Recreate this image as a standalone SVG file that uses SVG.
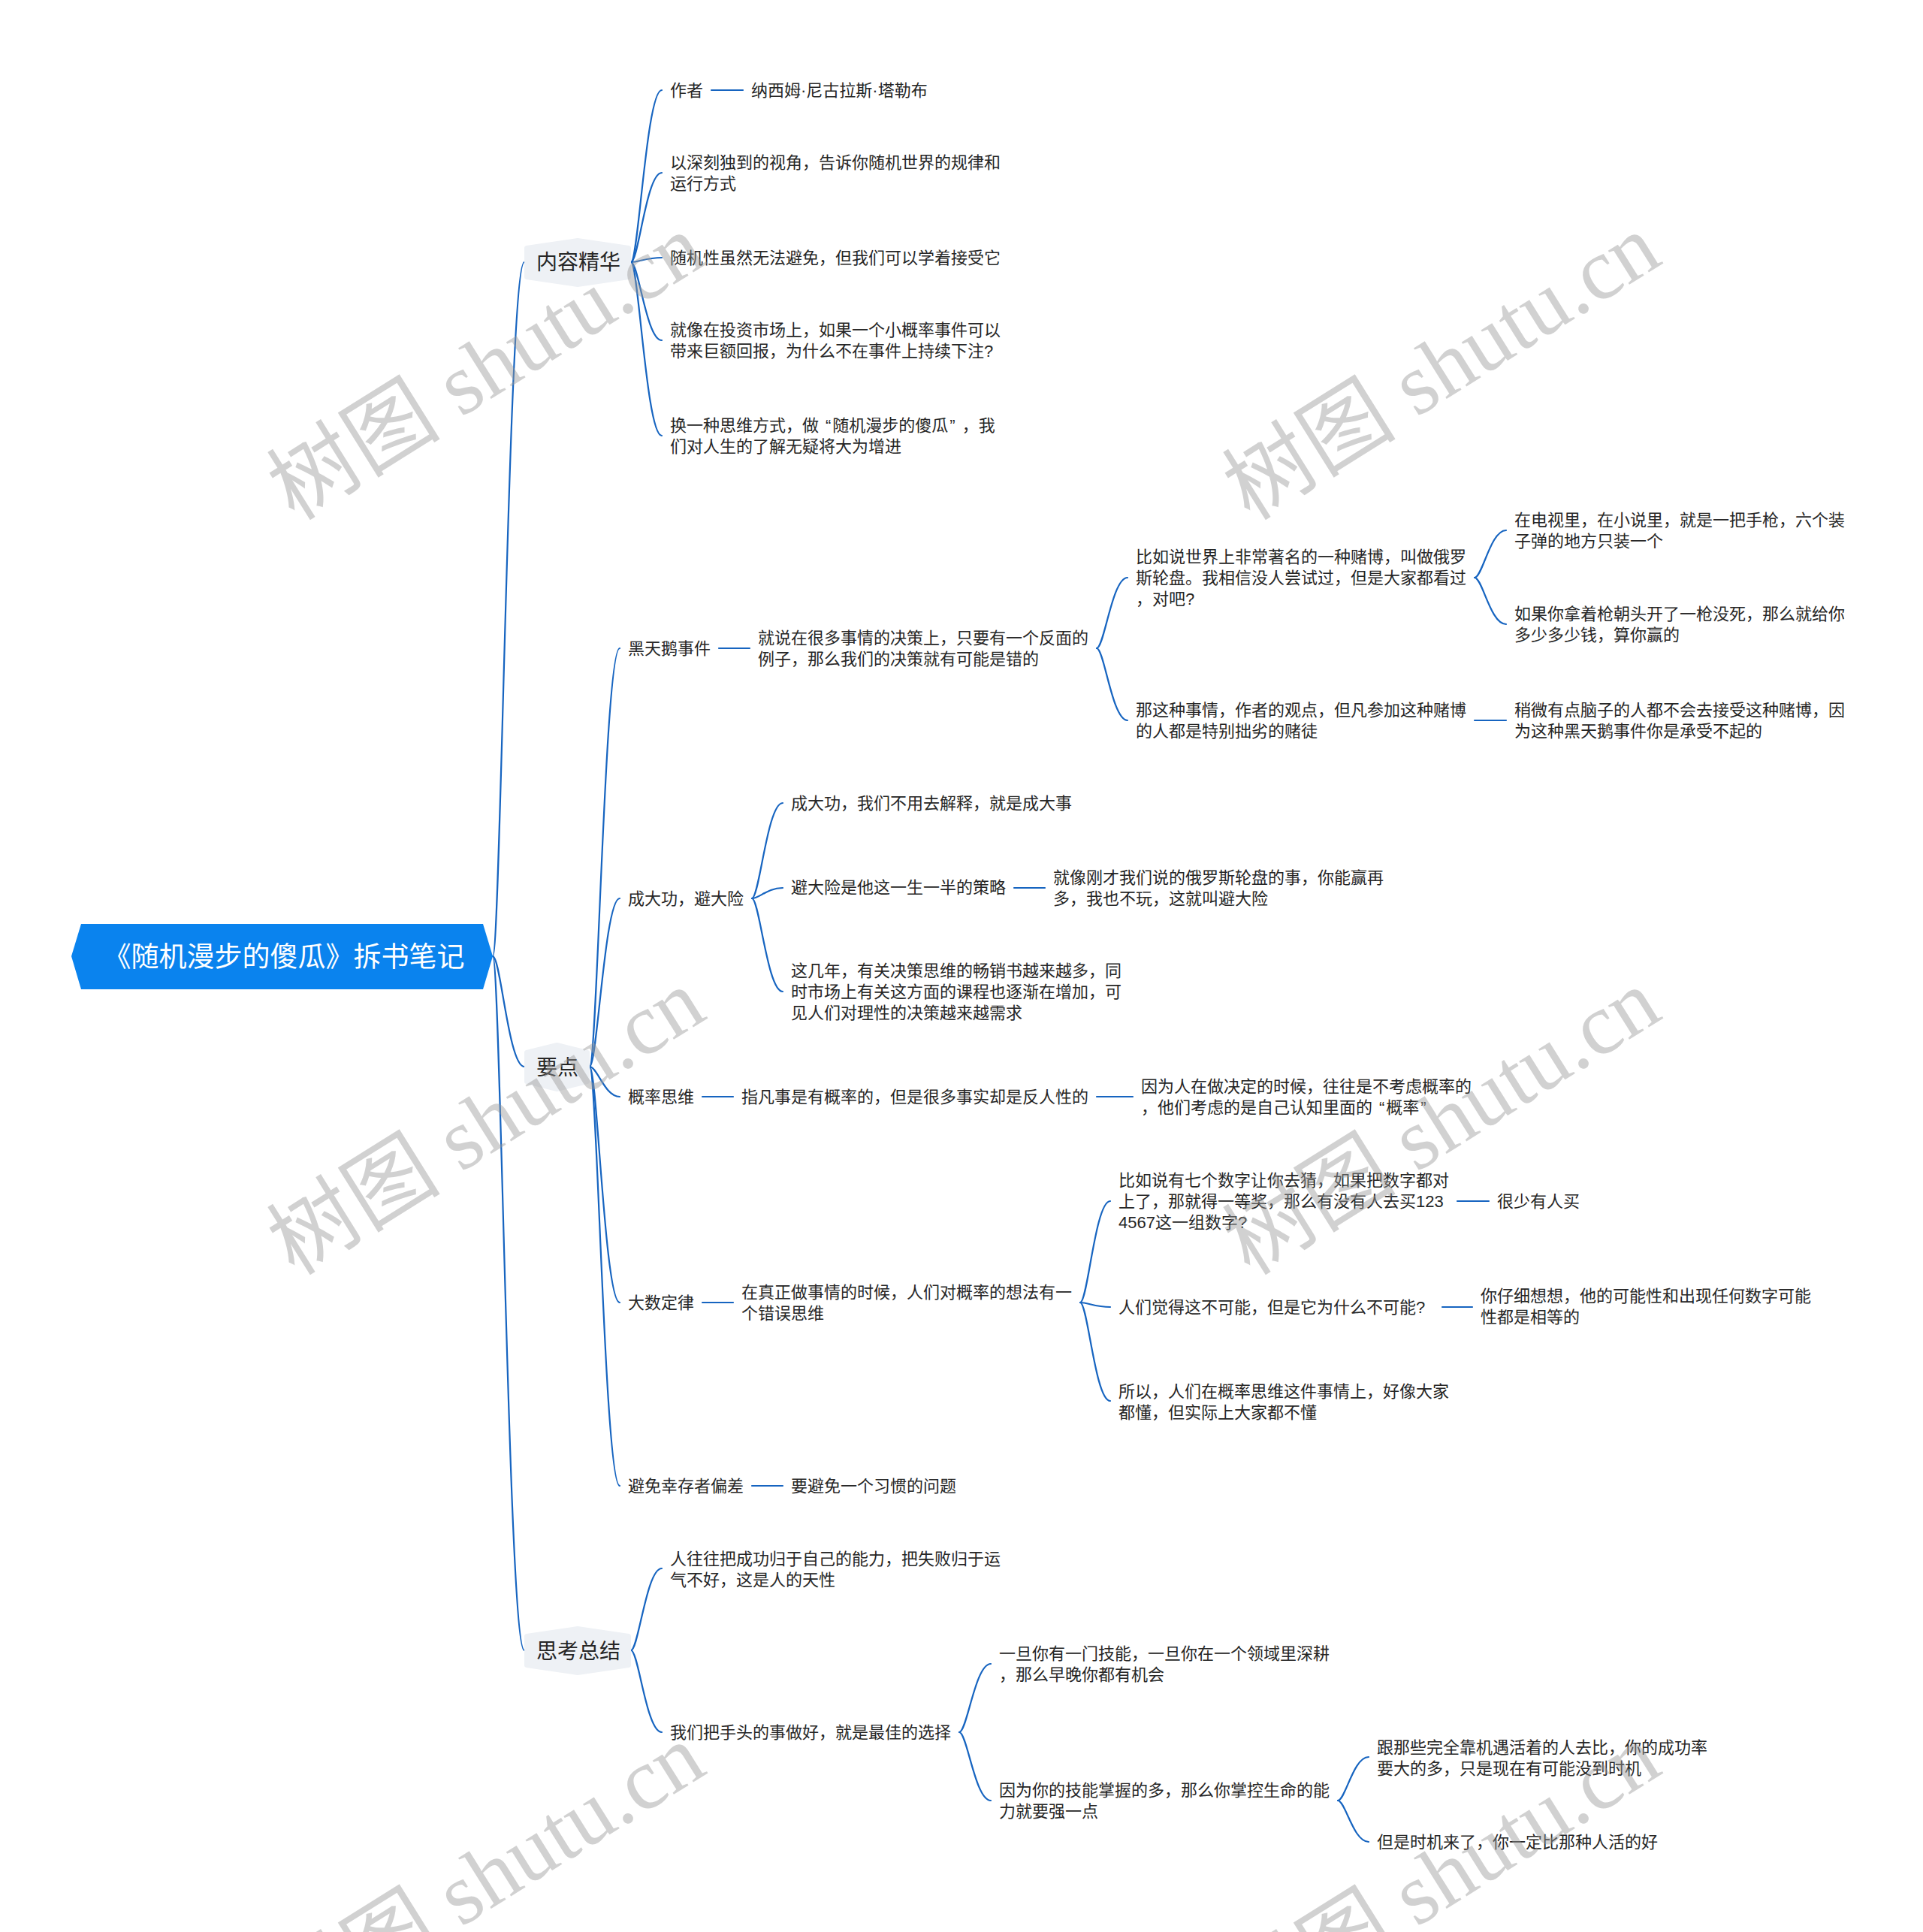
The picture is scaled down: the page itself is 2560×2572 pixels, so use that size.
<svg xmlns="http://www.w3.org/2000/svg" width="2560" height="2572" viewBox="0 0 2560 2572">
<style>
text{font-family:'Liberation Sans','Noto Sans CJK SC',sans-serif;fill:#262626}
.t2{font-size:22px}
.t1{font-size:28px;text-anchor:middle}
.rt{font-size:37px;fill:#ffffff;text-anchor:middle}
.ln{fill:none;stroke:#1664c0;stroke-width:2.2;stroke-linecap:round}
.hx{fill:#eef1f5;stroke:#eef1f5;stroke-width:6;stroke-linejoin:round}
.wm{font-family:'Liberation Serif','Noto Sans CJK SC',serif;font-size:116px;fill:#9a9a9a;fill-opacity:0.45;text-anchor:middle}
</style>
<rect width="2560" height="2572" fill="#ffffff"/>
<g id="connectors">
<path class="ln" d="M656 1273 C666.5 1273 677 349 698 349"/>
<path class="ln" d="M656 1273 C666.5 1273 677 1420 698 1420"/>
<path class="ln" d="M656 1273 C666.5 1273 677 2197 698 2197"/>
<path class="ln" d="M840 349 C850 349 860.5 120 881 120"/>
<path class="ln" d="M840 349 C850 349 860.5 230 881 230"/>
<path class="ln" d="M840 349 C850 349 860.5 343 881 343"/>
<path class="ln" d="M840 349 C850 349 860.5 453 881 453"/>
<path class="ln" d="M840 349 C850 349 860.5 580 881 580"/>
<path class="ln" d="M947 120 L989 120"/>
<path class="ln" d="M785 1420 C795 1420 805 863 825 863"/>
<path class="ln" d="M785 1420 C795 1420 805 1196 825 1196"/>
<path class="ln" d="M785 1420 C795 1420 805 1460 825 1460"/>
<path class="ln" d="M785 1420 C795 1420 805 1734 825 1734"/>
<path class="ln" d="M785 1420 C795 1420 805 1978 825 1978"/>
<path class="ln" d="M957 863 L998 863"/>
<path class="ln" d="M1460 863 C1470 863 1480.5 769 1501 769"/>
<path class="ln" d="M1460 863 C1470 863 1480.5 959 1501 959"/>
<path class="ln" d="M1963 769 C1973.5 769 1984 706 2005 706"/>
<path class="ln" d="M1963 769 C1973.5 769 1984 831 2005 831"/>
<path class="ln" d="M1963 959 L2005 959"/>
<path class="ln" d="M1001 1196 C1011 1196 1021.5 1069 1042 1069"/>
<path class="ln" d="M1001 1196 C1011 1196 1021.5 1182 1042 1182"/>
<path class="ln" d="M1001 1196 C1011 1196 1021.5 1320 1042 1320"/>
<path class="ln" d="M1350 1182 L1391 1182"/>
<path class="ln" d="M935 1460 L976 1460"/>
<path class="ln" d="M1460 1460 L1508 1460"/>
<path class="ln" d="M935 1734 L976 1734"/>
<path class="ln" d="M1438 1734 C1448 1734 1458 1599 1478 1599"/>
<path class="ln" d="M1438 1734 C1448 1734 1458 1740 1478 1740"/>
<path class="ln" d="M1438 1734 C1448 1734 1458 1865 1478 1865"/>
<path class="ln" d="M1940 1599 L1982 1599"/>
<path class="ln" d="M1920 1740 L1960 1740"/>
<path class="ln" d="M1001 1978 L1042 1978"/>
<path class="ln" d="M840 2197 C850 2197 860.5 2088 881 2088"/>
<path class="ln" d="M840 2197 C850 2197 860.5 2306 881 2306"/>
<path class="ln" d="M1277 2306 C1287.5 2306 1298 2215 1319 2215"/>
<path class="ln" d="M1277 2306 C1287.5 2306 1298 2397 1319 2397"/>
<path class="ln" d="M1781 2397 C1791 2397 1801.5 2339 1822 2339"/>
<path class="ln" d="M1781 2397 C1791 2397 1801.5 2452 1822 2452"/>
</g>
<g id="root">
<polygon points="95,1273 108,1230 643,1230 656,1273 643,1317 108,1317" fill="#0a83ee"/>
<text class="rt" x="378" y="1287">《随机漫步的傻瓜》拆书笔记</text>
</g>
<g id="n-neirong">
<polygon class="hx" points="701,330 769,320 837,330 837,369 769,379 701,369"/>
<text class="t1" x="770" y="359">内容精华</text>
</g>
<g id="n-yaodian">
<polygon class="hx" points="701,1401 741.5,1391 782,1401 782,1440 741.5,1450 701,1440"/>
<text class="t1" x="742" y="1431">要点</text>
</g>
<g id="n-sikao">
<polygon class="hx" points="701,2178 769,2168 837,2178 837,2217 769,2227 701,2217"/>
<text class="t1" x="770" y="2208">思考总结</text>
</g>
<g id="n-author"><text class="t2" x="892" y="128">作者</text></g>
<g id="n-author-name"><text class="t2" x="1000" y="128">纳西姆·尼古拉斯·塔勒布</text></g>
<g id="n-c2"><text class="t2" x="892" y="224">以深刻独到的视角，告诉你随机世界的规律和</text><text class="t2" x="892" y="252">运行方式</text></g>
<g id="n-c3"><text class="t2" x="892" y="351">随机性虽然无法避免，但我们可以学着接受它</text></g>
<g id="n-c4"><text class="t2" x="892" y="447">就像在投资市场上，如果一个小概率事件可以</text><text class="t2" x="892" y="475">带来巨额回报，为什么不在事件上持续下注?</text></g>
<g id="n-c5"><text class="t2" x="892" y="574">换一种思维方式，做<tspan dx="9">“</tspan><tspan dx="2">随机漫步的傻瓜</tspan><tspan dx="2">”</tspan><tspan dx="9">，我</tspan></text><text class="t2" x="892" y="602">们对人生的了解无疑将大为增进</text></g>
<g id="n-heitiane"><text class="t2" x="836" y="871">黑天鹅事件</text></g>
<g id="n-jiushuo"><text class="t2" x="1009" y="857">就说在很多事情的决策上，只要有一个反面的</text><text class="t2" x="1009" y="885">例子，那么我们的决策就有可能是错的</text></g>
<g id="n-biru1"><text class="t2" x="1512" y="749">比如说世界上非常著名的一种赌博，叫做俄罗</text><text class="t2" x="1512" y="777">斯轮盘。我相信没人尝试过，但是大家都看过</text><text class="t2" x="1512" y="805">，对吧?</text></g>
<g id="n-dianshi"><text class="t2" x="2016" y="700">在电视里，在小说里，就是一把手枪，六个装</text><text class="t2" x="2016" y="728">子弹的地方只装一个</text></g>
<g id="n-ruguo"><text class="t2" x="2016" y="825">如果你拿着枪朝头开了一枪没死，那么就给你</text><text class="t2" x="2016" y="853">多少多少钱，算你赢的</text></g>
<g id="n-nazhe"><text class="t2" x="1512" y="953">那这种事情，作者的观点，但凡参加这种赌博</text><text class="t2" x="1512" y="981">的人都是特别拙劣的赌徒</text></g>
<g id="n-shaowei"><text class="t2" x="2016" y="953">稍微有点脑子的人都不会去接受这种赌博，因</text><text class="t2" x="2016" y="981">为这种黑天鹅事件你是承受不起的</text></g>
<g id="n-chengda"><text class="t2" x="836" y="1204">成大功，避大险</text></g>
<g id="n-chengda1"><text class="t2" x="1053" y="1077">成大功，我们不用去解释，就是成大事</text></g>
<g id="n-bida"><text class="t2" x="1053" y="1189">避大险是他这一生一半的策略</text></g>
<g id="n-jiuxiang"><text class="t2" x="1402" y="1176">就像刚才我们说的俄罗斯轮盘的事，你能赢再</text><text class="t2" x="1402" y="1204">多，我也不玩，这就叫避大险</text></g>
<g id="n-zhejinian"><text class="t2" x="1053" y="1300">这几年，有关决策思维的畅销书越来越多，同</text><text class="t2" x="1053" y="1328">时市场上有关这方面的课程也逐渐在增加，可</text><text class="t2" x="1053" y="1356">见人们对理性的决策越来越需求</text></g>
<g id="n-gailv"><text class="t2" x="836" y="1468">概率思维</text></g>
<g id="n-zhifan"><text class="t2" x="987" y="1468">指凡事是有概率的，但是很多事实却是反人性的</text></g>
<g id="n-yinwei"><text class="t2" x="1519" y="1454">因为人在做决定的时候，往往是不考虑概率的</text><text class="t2" x="1519" y="1482">，他们考虑的是自己认知里面的<tspan dx="9">“</tspan><tspan dx="2">概率</tspan><tspan dx="2">”</tspan></text></g>
<g id="n-dashu"><text class="t2" x="836" y="1742">大数定律</text></g>
<g id="n-zaizhen"><text class="t2" x="987" y="1728">在真正做事情的时候，人们对概率的想法有一</text><text class="t2" x="987" y="1756">个错误思维</text></g>
<g id="n-biru2"><text class="t2" x="1489" y="1579">比如说有七个数字让你去猜，如果把数字都对</text><text class="t2" x="1489" y="1607">上了，那就得一等奖，那么有没有人去买123</text><text class="t2" x="1489" y="1635">4567这一组数字?</text></g>
<g id="n-henshao"><text class="t2" x="1993" y="1607">很少有人买</text></g>
<g id="n-renmen"><text class="t2" x="1489" y="1748">人们觉得这不可能，但是它为什么不可能?</text></g>
<g id="n-nizixi"><text class="t2" x="1971" y="1733">你仔细想想，他的可能性和出现任何数字可能</text><text class="t2" x="1971" y="1761">性都是相等的</text></g>
<g id="n-suoyi"><text class="t2" x="1489" y="1860">所以，人们在概率思维这件事情上，好像大家</text><text class="t2" x="1489" y="1888">都懂，但实际上大家都不懂</text></g>
<g id="n-bimian"><text class="t2" x="836" y="1986">避免幸存者偏差</text></g>
<g id="n-yaobimian"><text class="t2" x="1053" y="1986">要避免一个习惯的问题</text></g>
<g id="n-renwang"><text class="t2" x="892" y="2083">人往往把成功归于自己的能力，把失败归于运</text><text class="t2" x="892" y="2111">气不好，这是人的天性</text></g>
<g id="n-women"><text class="t2" x="892" y="2314">我们把手头的事做好，就是最佳的选择</text></g>
<g id="n-yidan"><text class="t2" x="1330" y="2209">一旦你有一门技能，一旦你在一个领域里深耕</text><text class="t2" x="1330" y="2237">，那么早晚你都有机会</text></g>
<g id="n-yinweini"><text class="t2" x="1330" y="2391">因为你的技能掌握的多，那么你掌控生命的能</text><text class="t2" x="1330" y="2419">力就要强一点</text></g>
<g id="n-gen"><text class="t2" x="1833" y="2334">跟那些完全靠机遇活着的人去比，你的成功率</text><text class="t2" x="1833" y="2362">要大的多，只是现在有可能没到时机</text></g>
<g id="n-danshi"><text class="t2" x="1833" y="2460">但是时机来了，你一定比那种人活的好</text></g>
<g id="watermarks">
<text class="wm" transform="translate(668,522) rotate(-32)">树图 shutu.cn</text>
<text class="wm" transform="translate(1940,522) rotate(-32)">树图 shutu.cn</text>
<text class="wm" transform="translate(668,1527) rotate(-32)">树图 shutu.cn</text>
<text class="wm" transform="translate(1940,1527) rotate(-32)">树图 shutu.cn</text>
<text class="wm" transform="translate(668,2532) rotate(-32)">树图 shutu.cn</text>
<text class="wm" transform="translate(1940,2532) rotate(-32)">树图 shutu.cn</text>
</g>
</svg>
